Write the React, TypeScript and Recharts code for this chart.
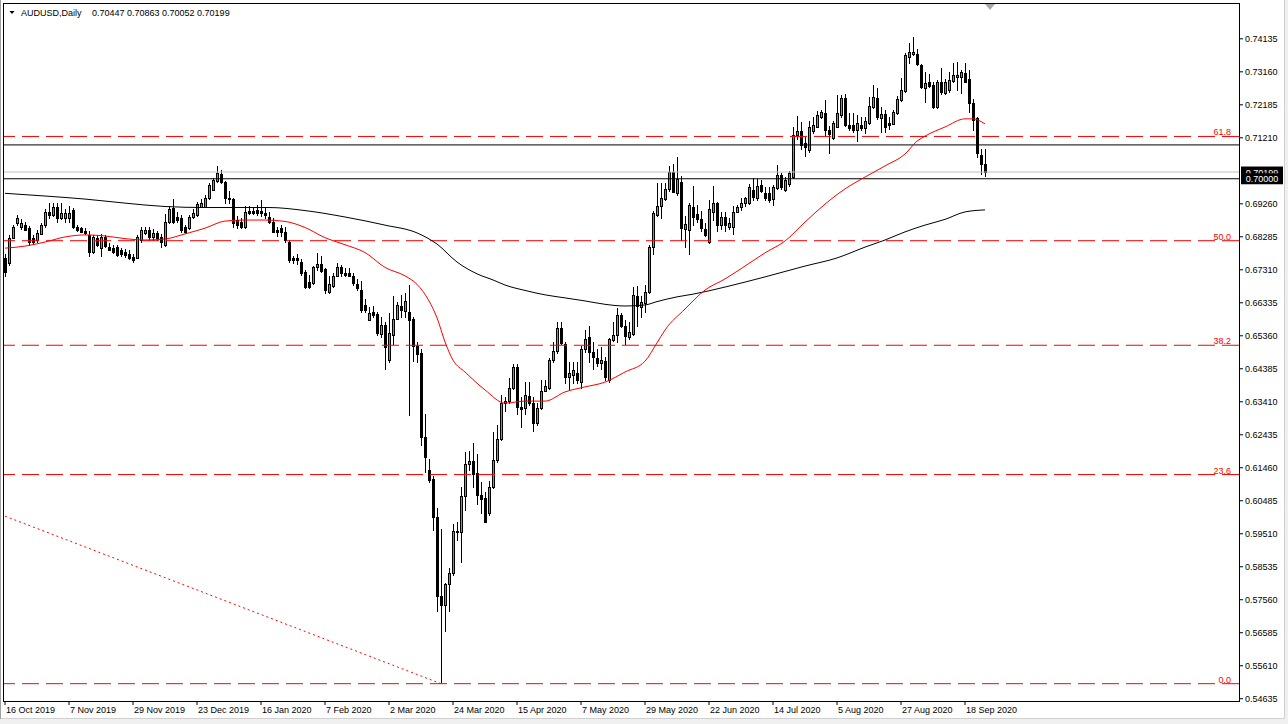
import React from "react";
import { ComposedChart, Bar, Line, XAxis, YAxis, ReferenceLine } from "recharts";

// AUDUSD daily, 16 Oct 2019 .. 25 Sep 2020 (one row per trading day)
const opens = [
  0.6766, 0.6751, 0.6825, 0.6869, 0.6857, 0.6863, 0.6854, 0.6825, 0.6819, 0.6837,
  0.6863, 0.6902, 0.6893, 0.6917, 0.6884, 0.6884, 0.6884, 0.6908, 0.6857, 0.6854,
  0.6846, 0.6834, 0.6784, 0.6825, 0.6795, 0.6828, 0.6798, 0.6795, 0.6798, 0.679,
  0.6784, 0.6778, 0.6769, 0.6766, 0.6819, 0.684, 0.6849, 0.6828, 0.684, 0.6828,
  0.6804, 0.6872, 0.6914, 0.6887, 0.6884, 0.6857, 0.6854, 0.6887, 0.6893, 0.6917,
  0.6917, 0.6943, 0.6967, 0.6993, 0.7014, 0.699, 0.6943, 0.694, 0.6878, 0.6872,
  0.6857, 0.6905, 0.6905, 0.6908, 0.6905, 0.6899, 0.6887, 0.6872, 0.6849, 0.6854,
  0.6843, 0.6813, 0.6766, 0.6766, 0.6754, 0.6724, 0.6695, 0.6692, 0.6739, 0.6748,
  0.6733, 0.6665, 0.6683, 0.6713, 0.6739, 0.6721, 0.6721, 0.6713, 0.6689, 0.6671,
  0.6627, 0.6583, 0.6606, 0.66, 0.6541, 0.6568, 0.6464, 0.6538, 0.6586, 0.6624,
  0.6609, 0.6606, 0.6586, 0.6506, 0.6485, 0.6237, 0.6139, 0.6113, 0.6, 0.5767,
  0.574, 0.5802, 0.5835, 0.5956, 0.5956, 0.6063, 0.6157, 0.6166, 0.6131, 0.6066,
  0.6057, 0.6012, 0.6089, 0.6169, 0.6231, 0.6337, 0.6343, 0.6381, 0.6444, 0.6326,
  0.6323, 0.6358, 0.6337, 0.6278, 0.6323, 0.6373, 0.6381, 0.6464, 0.6491, 0.6559,
  0.6512, 0.6414, 0.642, 0.6426, 0.6399, 0.6497, 0.6532, 0.6488, 0.647, 0.6456,
  0.6461, 0.6405, 0.6524, 0.6538, 0.6597, 0.6565, 0.6532, 0.6541, 0.6653, 0.6621,
  0.6633, 0.6665, 0.6798, 0.6893, 0.6919, 0.694, 0.697, 0.702, 0.6958, 0.699,
  0.6851, 0.6849, 0.6917, 0.6896, 0.6881, 0.6851, 0.6813, 0.6902, 0.6928, 0.6863,
  0.6887, 0.6857, 0.6857, 0.6902, 0.6917, 0.6928, 0.6928, 0.6967, 0.6943, 0.6982,
  0.6958, 0.6958, 0.694, 0.6973, 0.7011, 0.6967, 0.6985, 0.7005, 0.7129, 0.7141,
  0.7106, 0.7085, 0.7141, 0.7153, 0.7182, 0.7194, 0.7144, 0.7121, 0.7153, 0.7188,
  0.7239, 0.7159, 0.7159, 0.7144, 0.7159, 0.715, 0.7165, 0.7212, 0.7239, 0.718,
  0.7191, 0.7165, 0.7162, 0.7194, 0.7233, 0.7259, 0.736, 0.7369, 0.7369, 0.7336,
  0.7268, 0.7286, 0.7277, 0.7212, 0.7286, 0.7253, 0.7262, 0.7289, 0.7301, 0.7301,
  0.7313, 0.7295, 0.7224, 0.718, 0.707, 0.70447,
];
const highs = [
  0.6775, 0.6831, 0.6863, 0.689, 0.6881, 0.6872, 0.686, 0.6831, 0.6846, 0.6869,
  0.6908, 0.6928, 0.6928, 0.6928, 0.6928, 0.6908, 0.6919, 0.6911, 0.6863, 0.6857,
  0.6854, 0.6843, 0.6831, 0.6831, 0.6834, 0.6831, 0.681, 0.6804, 0.6804, 0.6795,
  0.6792, 0.6787, 0.6775, 0.6831, 0.6857, 0.6857, 0.6857, 0.6849, 0.6843, 0.6834,
  0.6893, 0.6917, 0.694, 0.6899, 0.689, 0.6863, 0.689, 0.6908, 0.6931, 0.694,
  0.6952, 0.6985, 0.7002, 0.7035, 0.7023, 0.6993, 0.6961, 0.6943, 0.6887, 0.6884,
  0.6917, 0.6919, 0.6914, 0.6922, 0.6937, 0.6914, 0.6899, 0.6884, 0.6857, 0.6863,
  0.6857, 0.6819, 0.6769, 0.6775, 0.676, 0.673, 0.6715, 0.6742, 0.6778, 0.6769,
  0.6736, 0.671, 0.6721, 0.6751, 0.6745, 0.6736, 0.6736, 0.6721, 0.6701, 0.6695,
  0.6642, 0.6621, 0.6624, 0.6606, 0.6591, 0.6574, 0.6603, 0.6651, 0.6633, 0.6656,
  0.6662, 0.6686, 0.6591, 0.6515, 0.6494, 0.6302, 0.6169, 0.6119, 0.6027, 0.5965,
  0.5805, 0.5847, 0.5977, 0.5983, 0.6089, 0.619, 0.6193, 0.6219, 0.6184, 0.6101,
  0.6072, 0.6104, 0.6249, 0.6272, 0.6361, 0.6355, 0.6411, 0.645, 0.645, 0.6355,
  0.6397, 0.6397, 0.6355, 0.6337, 0.6405, 0.6405, 0.647, 0.6515, 0.6574, 0.6574,
  0.6515, 0.6456, 0.6456, 0.6456, 0.6503, 0.6553, 0.6562, 0.6515, 0.6494, 0.65,
  0.6473, 0.6529, 0.6574, 0.6618, 0.6603, 0.658, 0.6574, 0.668, 0.6683, 0.6651,
  0.6686, 0.6804, 0.6902, 0.6987, 0.6987, 0.6987, 0.7035, 0.7041, 0.7064, 0.7008,
  0.6887, 0.6928, 0.6976, 0.6922, 0.6902, 0.6869, 0.6937, 0.6976, 0.6931, 0.6899,
  0.6899, 0.6884, 0.6917, 0.6922, 0.6943, 0.6946, 0.6982, 0.7002, 0.6999, 0.6996,
  0.6973, 0.6973, 0.6979, 0.7038, 0.7017, 0.7005, 0.702, 0.715, 0.7185, 0.7165,
  0.7123, 0.7168, 0.718, 0.72, 0.7203, 0.723, 0.7153, 0.7168, 0.7245, 0.7245,
  0.7248, 0.7194, 0.7194, 0.7188, 0.7182, 0.7182, 0.7239, 0.7277, 0.7268, 0.7212,
  0.7203, 0.7182, 0.7203, 0.7242, 0.7295, 0.7371, 0.7401, 0.7416, 0.7381, 0.7339,
  0.7313, 0.7307, 0.7283, 0.7289, 0.7327, 0.7292, 0.7313, 0.7342, 0.7345, 0.7321,
  0.7342, 0.7321, 0.7233, 0.7182, 0.7085, 0.70863,
];
const lows = [
  0.671, 0.6745, 0.6822, 0.6863, 0.6849, 0.6846, 0.6804, 0.6807, 0.6813, 0.6834,
  0.6857, 0.6884, 0.6887, 0.6872, 0.6881, 0.6872, 0.6872, 0.6854, 0.6843, 0.684,
  0.6834, 0.6769, 0.6778, 0.6801, 0.6769, 0.6798, 0.6787, 0.6778, 0.6769, 0.6769,
  0.6766, 0.676, 0.6754, 0.6763, 0.6813, 0.6834, 0.6819, 0.6819, 0.6819, 0.6798,
  0.6801, 0.6869, 0.6869, 0.6872, 0.684, 0.6837, 0.6849, 0.6884, 0.6887, 0.6914,
  0.6914, 0.694, 0.6964, 0.699, 0.6987, 0.6928, 0.6928, 0.6857, 0.6854, 0.6854,
  0.6854, 0.6893, 0.6893, 0.689, 0.6887, 0.6884, 0.6869, 0.684, 0.6828, 0.6828,
  0.6813, 0.6754, 0.6751, 0.6748, 0.6715, 0.6677, 0.6677, 0.6689, 0.673, 0.6724,
  0.6662, 0.6662, 0.668, 0.671, 0.671, 0.671, 0.671, 0.6686, 0.6671, 0.6606,
  0.6606, 0.658, 0.6591, 0.6538, 0.6532, 0.6435, 0.6458, 0.6509, 0.6583, 0.6591,
  0.6591, 0.6299, 0.6461, 0.6456, 0.6213, 0.6131, 0.6101, 0.5962, 0.572, 0.551,
  0.5661, 0.572, 0.5829, 0.593, 0.5867, 0.6021, 0.6139, 0.6089, 0.6036, 0.6012,
  0.5983, 0.6006, 0.6086, 0.6163, 0.6228, 0.6311, 0.6337, 0.6376, 0.6302, 0.6266,
  0.6302, 0.6331, 0.6252, 0.6272, 0.6317, 0.637, 0.6376, 0.6456, 0.6485, 0.6509,
  0.6396, 0.6376, 0.6396, 0.6396, 0.6381, 0.6488, 0.6458, 0.6435, 0.6444, 0.6435,
  0.6405, 0.6399, 0.6518, 0.6515, 0.6559, 0.6509, 0.6524, 0.6538, 0.6562, 0.6591,
  0.6606, 0.6662, 0.6775, 0.6887, 0.6884, 0.6937, 0.6961, 0.6958, 0.6952, 0.6819,
  0.6798, 0.6775, 0.6863, 0.6872, 0.6843, 0.6828, 0.681, 0.6878, 0.6843, 0.6849,
  0.6843, 0.6849, 0.6834, 0.6899, 0.6905, 0.6917, 0.6925, 0.6937, 0.6937, 0.6958,
  0.6937, 0.6931, 0.6922, 0.6967, 0.6967, 0.6961, 0.6976, 0.7002, 0.7115, 0.7085,
  0.7067, 0.7079, 0.7135, 0.715, 0.7177, 0.7129, 0.7076, 0.7115, 0.715, 0.7182,
  0.7153, 0.7144, 0.7138, 0.7109, 0.7144, 0.7135, 0.7159, 0.7209, 0.7174, 0.7138,
  0.7138, 0.7147, 0.7159, 0.7191, 0.7227, 0.7256, 0.7342, 0.7363, 0.7336, 0.7268,
  0.7224, 0.7271, 0.7209, 0.7209, 0.725, 0.725, 0.7256, 0.7283, 0.7262, 0.7253,
  0.7283, 0.7197, 0.7144, 0.7064, 0.7014, 0.70052,
];
const closes = [
  0.6724, 0.6825, 0.6857, 0.6884, 0.6869, 0.6849, 0.6813, 0.6813, 0.684, 0.6863,
  0.6902, 0.6893, 0.6917, 0.6884, 0.6899, 0.6899, 0.6899, 0.6857, 0.6849, 0.6843,
  0.684, 0.6784, 0.6828, 0.6804, 0.6828, 0.6801, 0.679, 0.6784, 0.6775, 0.6778,
  0.6775, 0.6766, 0.676, 0.6828, 0.6849, 0.6849, 0.6828, 0.684, 0.6825, 0.6813,
  0.6872, 0.6911, 0.6872, 0.6878, 0.6849, 0.6843, 0.6887, 0.6899, 0.6925, 0.6928,
  0.6943, 0.6982, 0.6996, 0.7017, 0.699, 0.6943, 0.694, 0.6869, 0.6863, 0.6857,
  0.6902, 0.6899, 0.6899, 0.6899, 0.6899, 0.6893, 0.6872, 0.6843, 0.6843, 0.6843,
  0.6819, 0.676, 0.676, 0.676, 0.6721, 0.668, 0.668, 0.6739, 0.6748, 0.6727,
  0.6671, 0.6689, 0.6713, 0.6739, 0.6721, 0.6715, 0.6713, 0.6692, 0.6677, 0.6612,
  0.6612, 0.6603, 0.6597, 0.6544, 0.6568, 0.6503, 0.6544, 0.6586, 0.6627, 0.6612,
  0.6639, 0.6583, 0.6506, 0.6482, 0.6237, 0.6178, 0.611, 0.6, 0.5767, 0.574,
  0.5802, 0.5835, 0.5959, 0.5959, 0.6063, 0.6157, 0.6166, 0.6128, 0.6066, 0.6054,
  0.5986, 0.6089, 0.6169, 0.6231, 0.6337, 0.6343, 0.6381, 0.6444, 0.6326, 0.632,
  0.6361, 0.6337, 0.6278, 0.6323, 0.6373, 0.6388, 0.6464, 0.6491, 0.6559, 0.6515,
  0.6414, 0.6426, 0.6435, 0.6405, 0.6497, 0.6526, 0.6488, 0.6473, 0.6456, 0.6464,
  0.6414, 0.6526, 0.6538, 0.6597, 0.6565, 0.6535, 0.6547, 0.6656, 0.6624, 0.6636,
  0.6665, 0.6798, 0.6899, 0.6919, 0.6943, 0.697, 0.702, 0.6961, 0.6999, 0.6854,
  0.6866, 0.6922, 0.6887, 0.6881, 0.6854, 0.6834, 0.6911, 0.6928, 0.6863, 0.6887,
  0.6863, 0.6869, 0.6902, 0.6917, 0.6928, 0.6943, 0.6976, 0.6946, 0.6979, 0.6964,
  0.6943, 0.6937, 0.6976, 0.7011, 0.6976, 0.6996, 0.7017, 0.7129, 0.7141, 0.71,
  0.7094, 0.7153, 0.7159, 0.7188, 0.7197, 0.7144, 0.7132, 0.7165, 0.7194, 0.7239,
  0.7159, 0.715, 0.7144, 0.7165, 0.715, 0.7171, 0.7215, 0.7242, 0.7182, 0.7191,
  0.7153, 0.7159, 0.7197, 0.7236, 0.7262, 0.7366, 0.7375, 0.7375, 0.7339, 0.7271,
  0.7283, 0.7274, 0.7212, 0.7286, 0.7256, 0.7286, 0.7292, 0.7307, 0.7307, 0.7315,
  0.7286, 0.7224, 0.7174, 0.7076, 0.7043, 0.70199,
];

// moving averages, read at a handful of bars
const ma50Idx = [0, 5, 10, 15, 20, 25, 30, 35, 40, 45, 50, 55, 60, 65, 70, 75, 80, 85, 90, 95, 100, 103, 106, 108, 110, 112, 115, 120, 125, 130, 135, 140, 145, 150, 155, 160, 163, 165, 170, 175, 180, 185, 190, 195, 200, 205, 210, 215, 220, 225, 228, 230, 235, 240, 242, 245];
const ma50 = [0.6795, 0.6801, 0.6813, 0.6828, 0.6834, 0.6831, 0.6823, 0.6819, 0.6822, 0.6837, 0.6854, 0.6875, 0.6878, 0.6878, 0.6874, 0.6856, 0.6826, 0.6805, 0.6782, 0.6738, 0.6713, 0.6688, 0.6639, 0.6589, 0.6518, 0.6464, 0.6429, 0.6376, 0.6337, 0.6343, 0.6343, 0.637, 0.6385, 0.6399, 0.6429, 0.6461, 0.6515, 0.6553, 0.6615, 0.6671, 0.6704, 0.6742, 0.6781, 0.6816, 0.6872, 0.6925, 0.697, 0.7005, 0.7038, 0.7073, 0.7111, 0.7126, 0.7153, 0.7177, 0.7177, 0.7162];
const ma200Idx = [0, 10, 20, 30, 40, 50, 60, 66, 75, 85, 95, 103, 108, 113, 118, 122, 125, 130, 135, 140, 145, 150, 155, 160, 163, 168, 172, 180, 190, 200, 208, 215, 220, 225, 230, 235, 240, 245];
const ma200 = [0.6957, 0.6949, 0.694, 0.6928, 0.6918, 0.6915, 0.6915, 0.6915, 0.6906, 0.6887, 0.6863, 0.684, 0.6807, 0.6754, 0.6719, 0.6701, 0.6686, 0.667, 0.6657, 0.6648, 0.6639, 0.6629, 0.6624, 0.6627, 0.6637, 0.6651, 0.6659, 0.668, 0.671, 0.6742, 0.6766, 0.6798, 0.6819, 0.6843, 0.6863, 0.688, 0.6902, 0.6908];

// fibonacci retracement (0.0 at the March low)
const fibLevels = [0.5508, 0.6126, 0.6508, 0.6817, 0.7125];
const fibNames = ["0.0", "23.6", "38.2", "50.0", "61.8"];
const fibBase = [{ i: 0, p: 0.6003 }, { i: 109, p: 0.5508 }];

const hLines = [0.71, 0.7];
const bidPrice = 0.70199;

const tickIdx = [0, 16, 32, 48, 64, 80, 96, 112, 128, 144, 160, 176, 192, 208, 224, 240];
const tickLabels = ["16 Oct 2019", "7 Nov 2019", "29 Nov 2019", "23 Dec 2019", "16 Jan 2020", "7 Feb 2020", "2 Mar 2020", "24 Mar 2020", "15 Apr 2020", "7 May 2020", "29 May 2020", "22 Jun 2020", "14 Jul 2020", "5 Aug 2020", "27 Aug 2020", "18 Sep 2020"];
const priceTicks = [0.74135, 0.7316, 0.72185, 0.7121, 0.6926, 0.68285, 0.6731, 0.66335, 0.6536, 0.64385, 0.6341, 0.62435, 0.6146, 0.60485, 0.5951, 0.58535, 0.5756, 0.56585, 0.5561, 0.54635];

const SLOTS = 309; // bars + empty shift area on the right

const data = Array.from({ length: SLOTS }, (_, i) => {
  const row: Record<string, any> = { i };
  if (i < opens.length) {
    row.o = opens[i];
    row.h = highs[i];
    row.l = lows[i];
    row.c = closes[i];
    row.range = [lows[i], highs[i]];
  }
  const a = ma50Idx.indexOf(i);
  if (a >= 0) row.ma50 = ma50[a];
  const b = ma200Idx.indexOf(i);
  if (b >= 0) row.ma200 = ma200[b];
  return row;
});

const BULL = "#33cc33";

function Candle(props: any) {
  const { x, y, width, height, payload } = props;
  if (!payload || payload.o == null || !isFinite(y) || !isFinite(height)) return null;
  const { o, h, l, c } = payload;
  const top = height < 0 ? y + height : y;
  const hh = Math.abs(height);
  const span = h - l;
  const py = (p: number) => (span > 0 ? top + ((h - p) / span) * hh : top);
  const cx = Math.floor(x + width / 2) + 0.5;
  const bTop = Math.round(py(Math.max(o, c))) + 0.5;
  const bBot = Math.max(Math.round(py(Math.min(o, c))) + 0.5, bTop + 1);
  return (
    <g>
      <line x1={cx} x2={cx} y1={Math.floor(top)} y2={Math.ceil(top + hh)} stroke="#000" strokeWidth={1} />
      <rect x={cx - 1} y={bTop} width={2} height={bBot - bTop} fill={c >= o ? BULL : "#000"} stroke="#000" strokeWidth={1} />
    </g>
  );
}

function FibLabel({ viewBox, text }: any) {
  if (!viewBox) return null;
  return (
    <text x={viewBox.x + viewBox.width - 8} y={viewBox.y - 1} textAnchor="end" fill="#ff0000" fontSize={9}>
      {text}
    </text>
  );
}

function PriceTag({ viewBox, text }: any) {
  if (!viewBox) return null;
  const x = viewBox.x + viewBox.width + 2;
  const y = viewBox.y;
  return (
    <g>
      <rect x={x} y={y - 5.5} width={42} height={11} fill="#000" />
      <text x={x + 21} y={y + 3.5} textAnchor="middle" fill="#ffffff" fontSize={9}>
        {text}
      </text>
    </g>
  );
}

function DateTick({ x, y, payload }: any) {
  const k = tickIdx.indexOf(payload.value);
  return (
    <text x={x + 1} y={y} dy="0.71em" textAnchor="start" fill="#000" fontSize={9}>
      {k >= 0 ? tickLabels[k] : ""}
    </text>
  );
}

export default function App() {
  return (
    <div
      style={{
        position: "fixed",
        left: 0,
        top: 0,
        width: 1288,
        height: 724,
        background: "#fff",
        overflow: "hidden",
        fontFamily: '"Liberation Sans", Arial, sans-serif',
      }}
    >
      <ComposedChart width={1288} height={724} data={data} margin={{ top: 4, right: 0, left: 3, bottom: 0 }}>
        <XAxis
          dataKey="i"
          type="category"
          ticks={tickIdx}
          interval={0}
          height={23}
          axisLine={false}
          tickLine={{ stroke: "#000" }}
          tickSize={4}
          tickMargin={2}
          tick={<DateTick />}
        />
        <YAxis
          orientation="right"
          type="number"
          width={49}
          domain={[0.54568, 0.75164]}
          allowDataOverflow
          ticks={priceTicks}
          interval={0}
          axisLine={false}
          tickLine={{ stroke: "#000" }}
          tickSize={4}
          tickMargin={2}
          tick={{ fontSize: 9, fill: "#000" }}
          tickFormatter={(v: number) => v.toFixed(5)}
        />
        {fibLevels.map((lv, k) => (
          <ReferenceLine
            key={fibNames[k]}
            y={lv}
            stroke="#ff0000"
            strokeWidth={1}
            strokeDasharray="17 7"
            label={<FibLabel text={fibNames[k]} />}
          />
        ))}
        <ReferenceLine
          segment={[{ x: fibBase[0].i, y: fibBase[0].p }, { x: fibBase[1].i, y: fibBase[1].p }]}
          stroke="#ff0000"
          strokeWidth={1}
          strokeDasharray="2 3"
        />
        <ReferenceLine y={hLines[0]} stroke="#000" strokeWidth={1} />
        <ReferenceLine y={bidPrice} stroke="#c0c0c0" strokeWidth={1} label={<PriceTag text={bidPrice.toFixed(5)} />} />
        <ReferenceLine y={hLines[1]} stroke="#000" strokeWidth={1} label={<PriceTag text={hLines[1].toFixed(5)} />} />
        <Bar dataKey="range" barSize={3} shape={(p: any) => <Candle {...p} />} isAnimationActive={false} />
        <Line dataKey="ma200" type="monotone" stroke="#000" strokeWidth={1} dot={false} connectNulls isAnimationActive={false} />
        <Line dataKey="ma50" type="monotone" stroke="#ff0000" strokeWidth={1} dot={false} connectNulls isAnimationActive={false} />
      </ComposedChart>
      <svg width={1288} height={724} style={{ position: "absolute", left: 0, top: 0, pointerEvents: "none" }}>
        <rect x={3.5} y={3.5} width={1236} height={698} fill="none" stroke="#000" strokeWidth={1} />
        <rect x={1285} y={0} width={3} height={724} fill="#f0f0f0" />
        <rect x={0} y={719} width={1288} height={5} fill="#f0f0f0" />
        <line x1={1284.5} x2={1284.5} y1={0} y2={719} stroke="#d0d0d0" />
        <line x1={0} x2={1285} y1={718.5} y2={718.5} stroke="#d0d0d0" />
        <line x1={0.5} x2={0.5} y1={0} y2={719} stroke="#a0a0a0" />
        <polygon points="9.5,11 14.5,11 12,14" fill="#000" />
        <text x={21} y={16} fontSize={9} fill="#000">AUDUSD,Daily</text>
        <text x={92} y={16} fontSize={9} fill="#000">0.70447 0.70863 0.70052 0.70199</text>
        <polygon points="985,4 995,4 990,10" fill="#a8a8a8" />
      </svg>
    </div>
  );
}
